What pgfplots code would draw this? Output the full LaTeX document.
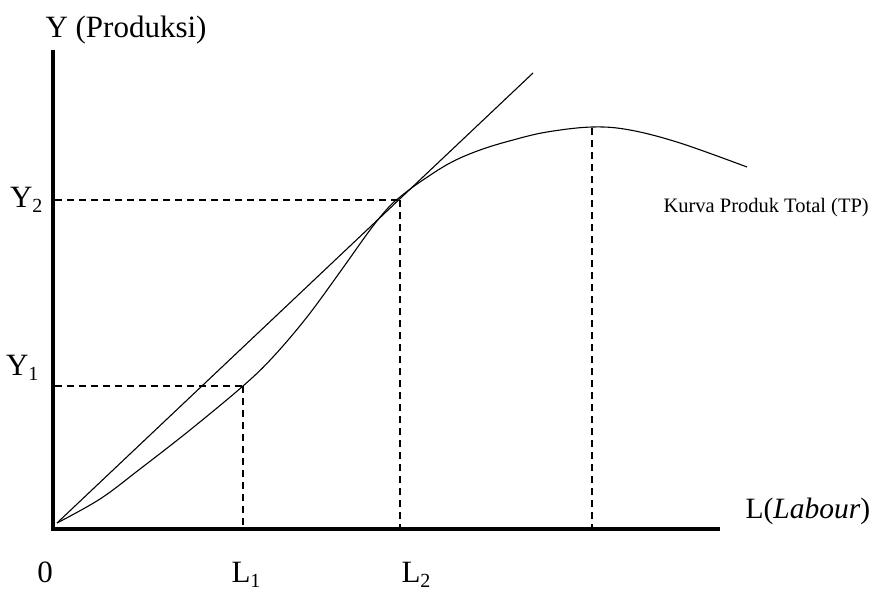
\documentclass[border=0pt]{standalone}
\usepackage{pgfplots}
\pgfplotsset{compat=1.18}
\usepackage{fontspec}
\setmainfont{Liberation Serif}
\newcommand\sub[1]{\raisebox{-0.18em}{\fontsize{20}{20}\selectfont #1}}
\begin{document}
\begin{tikzpicture}
\begin{axis}[
  name=main,
  scale only axis, width=876pt, height=592pt,
  xmin=0, xmax=876, ymin=0, ymax=592, y dir=reverse,
  hide axis, clip=false,
  every node/.style={inner sep=0pt, outer sep=0pt},
]
% axes
\addplot[black, line width=4pt] coordinates {(53,50) (53,531)};
\addplot[black, line width=4pt] coordinates {(51,529) (720,529)};
% straight line (ray from origin)
\addplot[black, line width=1.1pt] coordinates {(57,523) (533,73)};
% total product curve
\addplot[black, line width=1.1pt, smooth, tension=0.6] coordinates {
 (57,523) (100,499) (140,469) (190,430) (243,386) (273,357) (307,317)
 (340,272) (370,230) (388,208) (400,197) (420,182) (450,163) (480,150)
 (513,140) (547,132) (592,127) (630,130) (680,143) (747,167)};
% dashed guides
\addplot[black, line width=1.3pt, dash pattern=on 7pt off 5pt] coordinates {(55,386) (243,386)};
\addplot[black, line width=1.3pt, dash pattern=on 7pt off 5pt] coordinates {(243,386) (243,527)};
\addplot[black, line width=1.3pt, dash pattern=on 7pt off 5pt] coordinates {(55,200) (400,200)};
\addplot[black, line width=1.3pt, dash pattern=on 7pt off 5pt] coordinates {(400,200) (400,527)};
\addplot[black, line width=1.3pt, dash pattern=on 7pt off 5pt] coordinates {(592,128) (592,527)};
% labels
\node[anchor=base west] at (axis cs:42,37) {\fontsize{31}{36}\selectfont Y (Produksi)};
\node[anchor=base east] at (axis cs:46,207) {\fontsize{31}{36}\selectfont Y\sub{2}};
\node[anchor=base east] at (axis cs:42,375) {\fontsize{31}{36}\selectfont Y\sub{1}};
\node[anchor=base] at (axis cs:45,582) {\fontsize{31}{36}\selectfont 0};
\node[anchor=base west] at (axis cs:228,582) {\fontsize{31}{36}\selectfont L\sub{1}};
\node[anchor=base west] at (axis cs:398,582) {\fontsize{31}{36}\selectfont L\sub{2}};
\node[anchor=base west] at (axis cs:742,518) {\fontsize{29.5}{36}\selectfont L(\textit{Labour})};
\node[anchor=base west] at (axis cs:660,212) {\fontsize{20.5}{25}\selectfont Kurva Produk Total (TP)};
\end{axis}
\pgfresetboundingbox
\path (main.south west) rectangle (main.north east);
\end{tikzpicture}
\end{document}
